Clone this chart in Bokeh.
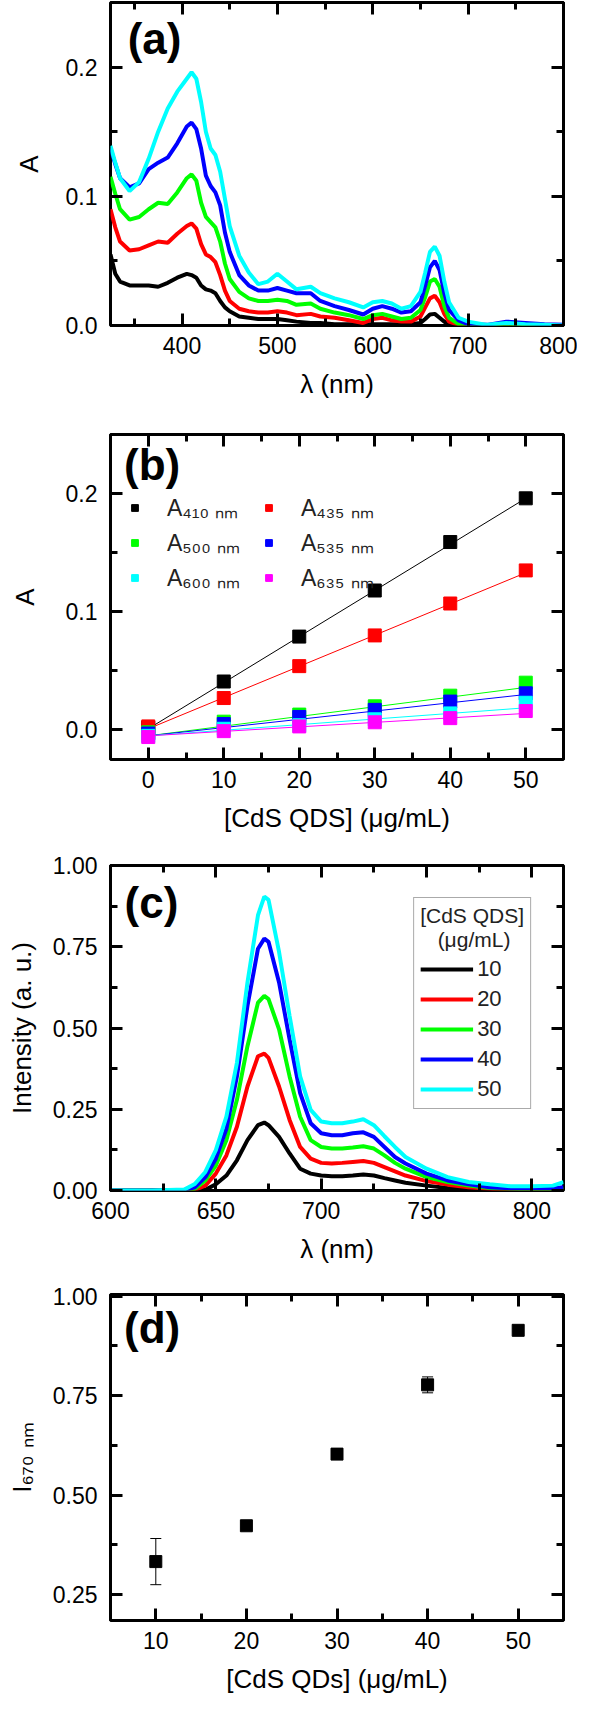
import numpy as np
from bokeh.plotting import figure
from bokeh.layouts import column
from bokeh.models import (Range1d, LinearAxis, SingleIntervalTicker, NumeralTickFormatter,
                          Label, Legend, LegendItem, ColumnDataSource, Whisker, TeeHead)
from bokeh.embed import file_html
from bokeh.resources import INLINE

FONT = "Liberation Sans"

# ---------------- Panel (a): absorption spectra ----------------
wl_a = [325, 330, 335, 345, 355, 365, 375, 385, 395, 405, 410, 415, 420, 425, 430, 435, 440,
        445, 450, 460, 470, 480, 490, 500, 510, 520, 535, 545, 560, 575, 590, 600, 610, 620,
        630, 640, 650, 655, 660, 665, 670, 675, 680, 690, 700, 720, 740, 760, 780, 800]
abs_10 = [0.055, 0.040, 0.034, 0.031, 0.031, 0.031, 0.030, 0.033, 0.037, 0.040, 0.039, 0.037,
          0.031, 0.028, 0.027, 0.025, 0.019, 0.014, 0.011, 0.007, 0.006, 0.005, 0.005, 0.005,
          0.004, 0.003, 0.002, 0.002, 0.001, 0.001, 0.001, 0.001, 0.001, 0.001, 0.001, 0.001,
          0.002, 0.005, 0.0085, 0.009, 0.006, 0.003, 0.001, 0, 0, 0, 0, 0, 0, 0]
abs_20 = [0.090, 0.076, 0.065, 0.058, 0.059, 0.062, 0.065, 0.064, 0.071, 0.077, 0.079, 0.075,
          0.063, 0.055, 0.053, 0.049, 0.039, 0.027, 0.019, 0.013, 0.011, 0.010, 0.010, 0.011,
          0.010, 0.008, 0.009, 0.007, 0.006, 0.004, 0.002, 0.005, 0.006, 0.004, 0.003, 0.003,
          0.007, 0.014, 0.021, 0.023, 0.018, 0.009, 0.003, 0.0005, 0, 0, 0, 0, 0, 0]
abs_30 = [0.115, 0.102, 0.090, 0.082, 0.084, 0.090, 0.095, 0.094, 0.103, 0.114, 0.117, 0.112,
          0.095, 0.084, 0.080, 0.076, 0.065, 0.048, 0.036, 0.026, 0.021, 0.019, 0.019, 0.020,
          0.019, 0.016, 0.017, 0.013, 0.010, 0.008, 0.005, 0.008, 0.009, 0.007, 0.005, 0.006,
          0.012, 0.022, 0.034, 0.036, 0.030, 0.015, 0.006, 0.001, 0, 0, 0, 0, 0, 0]
abs_40 = [0.137, 0.125, 0.114, 0.107, 0.110, 0.121, 0.126, 0.130, 0.141, 0.154, 0.157, 0.152,
          0.137, 0.116, 0.108, 0.103, 0.093, 0.072, 0.057, 0.039, 0.031, 0.027, 0.027, 0.029,
          0.027, 0.025, 0.025, 0.019, 0.015, 0.012, 0.0085, 0.013, 0.015, 0.013, 0.010, 0.011,
          0.018, 0.031, 0.045, 0.050, 0.043, 0.025, 0.012, 0.004, 0.001, 0.0005, 0.003, 0.002,
          0.001, 0.0005]
abs_50 = [0.139, 0.126, 0.114, 0.104, 0.111, 0.129, 0.150, 0.168, 0.181, 0.191, 0.196, 0.191,
          0.173, 0.150, 0.137, 0.132, 0.119, 0.098, 0.077, 0.054, 0.041, 0.032, 0.034, 0.040,
          0.034, 0.028, 0.030, 0.025, 0.021, 0.018, 0.014, 0.018, 0.019, 0.017, 0.013, 0.015,
          0.026, 0.041, 0.057, 0.061, 0.054, 0.034, 0.018, 0.006, 0.003, 0.0005, 0.002, 0.001,
          0.0005, 0.0]

# ---------------- Panel (b): absorbance vs concentration ----------------
conc_b = [0, 10, 20, 30, 40, 50]
A410 = [0.002, 0.041, 0.079, 0.118, 0.159, 0.196]
A435 = [0.003, 0.027, 0.054, 0.080, 0.107, 0.135]
A500 = [-0.002, 0.007, 0.013, 0.020, 0.029, 0.040]
A535 = [-0.003, 0.005, 0.011, 0.017, 0.024, 0.031]
A600 = [-0.005, 0.001, 0.004, 0.009, 0.014, 0.023]
A635 = [-0.006, -0.001, 0.003, 0.0065, 0.010, 0.016]
fit_intercept = [0.001, 0.001, -0.005, -0.005, -0.005, -0.005]
fit_slope = [0.0039, 0.00264, 0.00082, 0.0007, 0.000475, 0.00038]
labels_b = ["A₄₁₀ ₙₘ", "A₄₃₅ ₙₘ", "A₅₀₀ ₙₘ", "A₅₃₅ ₙₘ", "A₆₀₀ ₙₘ", "A₆₃₅ ₙₘ"]
legend_order_b = [0, 2, 4, 1, 3, 5]   # column-major fill -> rows (410,435),(500,535),(600,635)

# ---------------- Panel (c): emission spectra ----------------
wl_c = [600, 620, 635, 640, 645, 650, 655, 660, 665, 670, 673, 675, 680, 685, 690, 695, 700,
        705, 710, 715, 720, 725, 730, 735, 740, 750, 760, 770, 780, 790, 800, 810, 815]
I_10 = [0, 0, 0, 0, 0.002, 0.019, 0.046, 0.093, 0.155, 0.201, 0.209, 0.201, 0.165, 0.114,
        0.067, 0.052, 0.046, 0.044, 0.044, 0.046, 0.049, 0.046, 0.038, 0.031, 0.024, 0.015,
        0.008, 0.004, 0.002, 0.001, 0, 0, 0]
I_20 = [0, 0, 0, 0.002, 0.015, 0.052, 0.108, 0.196, 0.320, 0.413, 0.421, 0.408, 0.320, 0.217,
        0.134, 0.098, 0.085, 0.083, 0.085, 0.088, 0.091, 0.085, 0.072, 0.059, 0.046, 0.029,
        0.018, 0.010, 0.005, 0.002, 0.001, 0.001, 0.001]
I_30 = [0, 0, 0, 0.005, 0.031, 0.077, 0.155, 0.279, 0.444, 0.578, 0.599, 0.589, 0.496, 0.351,
        0.227, 0.155, 0.134, 0.129, 0.129, 0.132, 0.136, 0.129, 0.108, 0.085, 0.067, 0.041,
        0.026, 0.015, 0.008, 0.005, 0.004, 0.004, 0.005]
I_40 = [0, 0, 0.001, 0.010, 0.041, 0.098, 0.190, 0.351, 0.568, 0.744, 0.775, 0.765, 0.640,
        0.465, 0.300, 0.207, 0.176, 0.170, 0.170, 0.176, 0.179, 0.165, 0.134, 0.103, 0.083,
        0.052, 0.031, 0.019, 0.010, 0.007, 0.007, 0.007, 0.010]
I_50 = [0, 0, 0.003, 0.020, 0.057, 0.124, 0.227, 0.393, 0.640, 0.847, 0.904, 0.894, 0.734,
        0.537, 0.351, 0.248, 0.212, 0.207, 0.207, 0.212, 0.219, 0.201, 0.167, 0.134, 0.103,
        0.067, 0.041, 0.026, 0.019, 0.013, 0.013, 0.015, 0.026]
conc_labels = ["10", "20", "30", "40", "50"]

# ---------------- Panel (d): I670 vs concentration ----------------
conc_d = [10, 20, 30, 40, 50]
I670 = [0.333, 0.423, 0.603, 0.777, 0.914]
I670_err = [0.058, 0.005, 0.005, 0.020, 0.004]

COLORS = ["#000000", "#ff0000", "#00ff00", "#0000ff", "#00ffff", "#ff00ff"]


def make_fig(height, top, bottom, xr, yr):
    p = figure(width=577, height=height, x_range=Range1d(*xr), y_range=Range1d(*yr),
               output_backend="svg", toolbar_location=None, tools="",
               min_border_left=110, min_border_right=14, min_border_top=top,
               min_border_bottom=bottom)
    p.xgrid.visible = False
    p.ygrid.visible = False
    p.outline_line_color = "black"
    p.outline_line_width = 3
    p.outline_line_alpha = 1.0
    p.background_fill_color = "white"
    p.border_fill_color = "white"
    return p


def style_axes(p, xtick, ytick, xfmt, yfmt, xlabel, ylabel, ylab_standoff):
    bx = p.below[0]
    ly = p.left[0]
    top = LinearAxis()
    right = LinearAxis()
    p.add_layout(top, "above")
    p.add_layout(right, "right")
    for ax in (bx, top):
        ax.ticker = xtick
    for ax in (ly, right):
        ax.ticker = ytick
    for ax in (bx, ly, top, right):
        ax.axis_line_color = None
        ax.major_tick_in = 12
        ax.major_tick_out = 0
        ax.minor_tick_in = 7
        ax.minor_tick_out = 0
        ax.major_tick_line_width = 3
        ax.minor_tick_line_width = 3
        ax.major_tick_line_color = "black"
        ax.minor_tick_line_color = "black"
        ax.major_label_text_font = FONT
        ax.major_label_text_font_size = "23px"
        ax.major_label_text_color = "black"
        ax.axis_label_text_font = FONT
        ax.axis_label_text_font_size = "26px"
        ax.axis_label_text_font_style = "normal"
        ax.axis_label_text_color = "black"
    for ax in (top, right):
        ax.major_label_text_font_size = "1px"
        ax.major_label_text_color = None
        ax.major_label_standoff = 0
    bx.formatter = xfmt
    bx.axis_label = xlabel
    bx.major_label_standoff = 11
    bx.axis_label_standoff = 12
    ly.formatter = yfmt
    ly.axis_label = ylabel
    ly.major_label_standoff = 13
    ly.axis_label_standoff = ylab_standoff


def panel_label(p, x, y, txt):
    p.add_layout(Label(x=x, y=y, text=txt, text_font=FONT, text_font_size="44px",
                       text_font_style="bold", text_baseline="top", text_align="left",
                       text_color="black"))


# ---- (a)
pa = make_fig(424, 2, 99, (325, 800), (0, 0.25))
for ys, c in zip([abs_10, abs_20, abs_30, abs_40, abs_50], COLORS[:5]):
    pa.line(wl_a, ys, line_color=c, line_width=4)
style_axes(pa, SingleIntervalTicker(interval=100, num_minor_ticks=2),
           SingleIntervalTicker(interval=0.1, num_minor_ticks=2),
           NumeralTickFormatter(format="0"), NumeralTickFormatter(format="0.0"),
           "λ (nm)", "A", 19)
panel_label(pa, 343, 0.241, "(a)")

# ---- (b)
pb = make_fig(429, 10, 94, (-5, 55), (-0.025, 0.25))
items = []
for ys, c, a0, b1, lab in zip([A410, A435, A500, A535, A600, A635], COLORS,
                              fit_intercept, fit_slope, labels_b):
    xx = np.array([conc_b[0], conc_b[-1]], dtype=float)
    pb.line(xx, a0 + b1 * xx, line_color=c, line_width=1)
    r = pb.scatter(conc_b, ys, marker="square", size=13, fill_color=c, line_color=c)
    items.append(LegendItem(label=lab, renderers=[r]))
items = [items[i] for i in legend_order_b]
leg_b = Legend(items=items, ncols=2, location=(16, 166), padding=0, margin=0,
               border_line_color=None, background_fill_alpha=0,
               label_text_font=FONT, label_text_font_size="23px", label_text_color="#222222",
               glyph_width=17, glyph_height=17, label_standoff=24, spacing=3,
               label_height=18, label_width=90)
pb.add_layout(leg_b)
style_axes(pb, SingleIntervalTicker(interval=10, num_minor_ticks=2),
           SingleIntervalTicker(interval=0.1, num_minor_ticks=2),
           NumeralTickFormatter(format="0"), NumeralTickFormatter(format="0.0"),
           "[CdS QDS] (μg/mL)", "A", 23)
panel_label(pb, -3.2, 0.245, "(b)")

# ---- (c)
pc = make_fig(429, 12, 92, (600, 815), (0, 1.0))
items_c = []
for ys, c, lab in zip([I_10, I_20, I_30, I_40, I_50], COLORS[:5], conc_labels):
    r = pc.line(wl_c, ys, line_color=c, line_width=4)
    items_c.append(LegendItem(label=lab, renderers=[r]))
leg_c = Legend(items=items_c, location="top_right", margin=32, padding=6,
               border_line_color="#555555", border_line_width=1,
               background_fill_color="white", background_fill_alpha=1,
               title="[CdS QDS]\n\u00a0\u00a0\u00a0(μg/mL)", title_text_font=FONT,
               title_text_font_size="21px", title_text_font_style="normal",
               title_text_color="#222222", title_standoff=4,
               label_text_font=FONT, label_text_font_size="22px", label_text_color="#222222",
               glyph_width=53, glyph_height=20, label_standoff=4, spacing=4,
               label_height=24)
pc.add_layout(leg_c)
style_axes(pc, SingleIntervalTicker(interval=50, num_minor_ticks=2),
           SingleIntervalTicker(interval=0.25, num_minor_ticks=2),
           NumeralTickFormatter(format="0"), NumeralTickFormatter(format="0.00"),
           "λ (nm)", "Intensity (a. u.)", 13)
panel_label(pc, 606.7, 0.963, "(c)")

# ---- (d)
pd_ = make_fig(417, 12, 79, (5, 55), (0.185, 1.004))
src_d = ColumnDataSource(data=dict(
    x=conc_d, y=I670,
    upper=[v + e for v, e in zip(I670, I670_err)],
    lower=[v - e for v, e in zip(I670, I670_err)]))
wh = Whisker(base="x", upper="upper", lower="lower", source=src_d, dimension="height",
             line_color="black", line_width=1,
             upper_head=TeeHead(size=11, line_width=1, line_color="black"),
             lower_head=TeeHead(size=11, line_width=1, line_color="black"))
wh.level = "underlay"
pd_.add_layout(wh)
pd_.scatter("x", "y", source=src_d, marker="square", size=12, fill_color="black",
            line_color="black")
style_axes(pd_, SingleIntervalTicker(interval=10, num_minor_ticks=2),
           SingleIntervalTicker(interval=0.25, num_minor_ticks=2),
           NumeralTickFormatter(format="0"), NumeralTickFormatter(format="0.00"),
           "[CdS QDs] (μg/mL)", "I₆₇₀ ₙₘ", 13)
panel_label(pd_, 6.5, 0.982, "(d)")

layout = column(pa, pb, pc, pd_, spacing=0)
open("out.html", "w").write(file_html(layout, INLINE))
